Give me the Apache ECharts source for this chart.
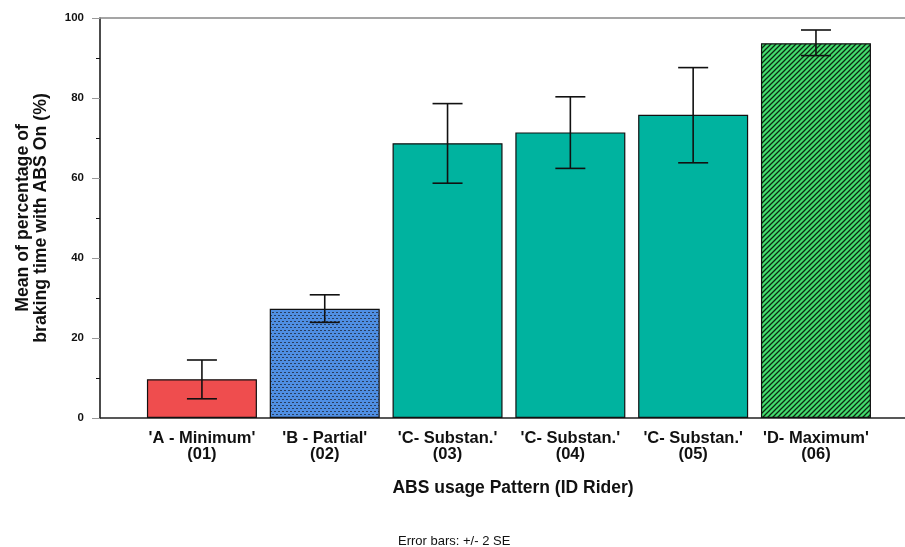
<!DOCTYPE html>
<html>
<head>
<meta charset="utf-8">
<script src="https://cdn.jsdelivr.net/npm/echarts@6/dist/echarts.min.js"></script>
<style>
  html, body { margin: 0; padding: 0; background: #fff; }
  #chart { width: 905px; height: 547px; }
</style>
</head>
<body>
<div id="chart"></div>
<script>
// ABS usage per rider: mean share of braking time with ABS active, +/- 2 SE
const categories = ["'A - Minimum'\n(01)", "'B - Partial'\n(02)", "'C- Substan.'\n(03)",
                    "'C- Substan.'\n(04)", "'C- Substan.'\n(05)", "'D- Maximum'\n(06)"];
const means   = [9.7, 27.3, 68.7, 71.4, 75.8, 93.7];
const errLow  = [4.8, 23.9, 58.7, 62.4, 63.8, 90.6];
const errHigh = [14.5, 30.8, 78.6, 80.3, 87.6, 97.0];
const yTicks = [0, 20, 40, 60, 80, 100];

const FONT = 'Liberation Sans, Arial, sans-serif';

// fill patterns
function dotPattern() {
  const c = document.createElement('canvas');
  c.width = 4; c.height = 6;
  const g = c.getContext('2d');
  g.fillStyle = '#4f8fe3';
  g.fillRect(0, 0, 4, 6);
  g.fillStyle = '#2a3f5e';
  g.fillRect(0, 0, 2, 1);
  g.fillRect(2, 3, 2, 1);
  return c;
}
function hatchPattern() {
  const c = document.createElement('canvas');
  c.width = 5; c.height = 5;
  const g = c.getContext('2d');
  g.fillStyle = '#44dd6e';
  g.fillRect(0, 0, 5, 5);
  g.strokeStyle = '#0b2a12';
  g.lineWidth = 1.3;
  g.beginPath();
  g.moveTo(-1, 6); g.lineTo(6, -1);
  g.moveTo(-1, 1); g.lineTo(1, -1);
  g.moveTo(4, 6); g.lineTo(6, 4);
  g.stroke();
  return c;
}
const fills = [
  '#ef4d4e',
  { image: dotPattern(), repeat: 'repeat' },
  '#00b39f', '#00b39f', '#00b39f',
  { image: hatchPattern(), repeat: 'repeat' }
];

const chart = echarts.init(document.getElementById('chart'), null, { renderer: 'canvas' });
const idx = categories.map((_, i) => i);

chart.setOption({
  animation: false,
  grid: { left: 100, right: 0, top: 18, bottom: 129, outerBoundsMode: 'none', containLabel: false },
  xAxis: [{
    type: 'value', min: -0.83, max: 5.725,
    axisLine: { show: true, onZero: false, lineStyle: { color: '#222', width: 1.5 } },
    axisTick: { show: false },
    splitLine: { show: false },
    axisLabel: {
      customValues: idx,
      formatter: v => categories[Math.round(v)],
      fontFamily: FONT, fontWeight: 'bold', fontSize: 16.5,
      color: '#111', lineHeight: 16, margin: 12, align: 'center'
    }
  }, {
    type: 'value', min: -0.83, max: 5.725, position: 'top',
    axisLine: { show: true, onZero: false, lineStyle: { color: '#888', width: 1.5 } },
    axisTick: { show: false }, axisLabel: { show: false }, splitLine: { show: false }
  }],
  yAxis: {
    type: 'value', min: 0, max: 100, interval: 20,
    name: 'Mean of percentage of\nbraking time with ABS On (%)',
    nameLocation: 'middle', nameGap: 50, nameRotate: 90,
    nameTextStyle: { fontFamily: FONT, fontWeight: 'bold', fontSize: 17.7, color: '#111', lineHeight: 18 },
    axisLine: { show: true, onZero: false, lineStyle: { color: '#111', width: 1.5 } },
    axisTick: { show: true, length: 8, lineStyle: { color: '#999' } },
    minorTick: { show: true, splitNumber: 2, length: 4, lineStyle: { color: '#111' } },
    splitLine: { show: false },
    axisLabel: {
      customValues: yTicks,
      fontFamily: FONT, fontWeight: 'bold', fontSize: 11.5, color: '#111', margin: 16
    }
  },
  series: [{
    type: 'bar',
    barWidth: 110,
    data: means.map((m, i) => ({ value: [i, m], itemStyle: { color: fills[i] } })),
    itemStyle: { borderColor: '#111', borderWidth: 1.2 },
    z: 2
  }, {
    type: 'custom',
    z: 5,
    data: idx.map(i => [i, errLow[i], errHigh[i]]),
    renderItem: (params, api) => {
      const lo = api.coord([api.value(0), api.value(1)]);
      const hi = api.coord([api.value(0), api.value(2)]);
      const half = 15;
      const style = { stroke: '#111', lineWidth: 1.6 };
      return {
        type: 'group',
        children: [
          { type: 'line', shape: { x1: lo[0], y1: lo[1], x2: hi[0], y2: hi[1] }, style },
          { type: 'line', shape: { x1: hi[0] - half, y1: hi[1], x2: hi[0] + half, y2: hi[1] }, style },
          { type: 'line', shape: { x1: lo[0] - half, y1: lo[1], x2: lo[0] + half, y2: lo[1] }, style }
        ]
      };
    }
  }],
  graphic: [{
    type: 'text', x: 513, y: 488,
    style: { text: 'ABS usage Pattern (ID Rider)', fontFamily: FONT, align: 'center', verticalAlign: 'middle',
             fontWeight: 'bold', fontSize: 17.5, fill: '#111' }
  }, {
    type: 'text', x: 398, y: 541,
    style: { text: 'Error bars: +/- 2 SE', fontFamily: FONT, verticalAlign: 'middle',
             fontSize: 13, fill: '#111' }
  }]
});
</script>
</body>
</html>
